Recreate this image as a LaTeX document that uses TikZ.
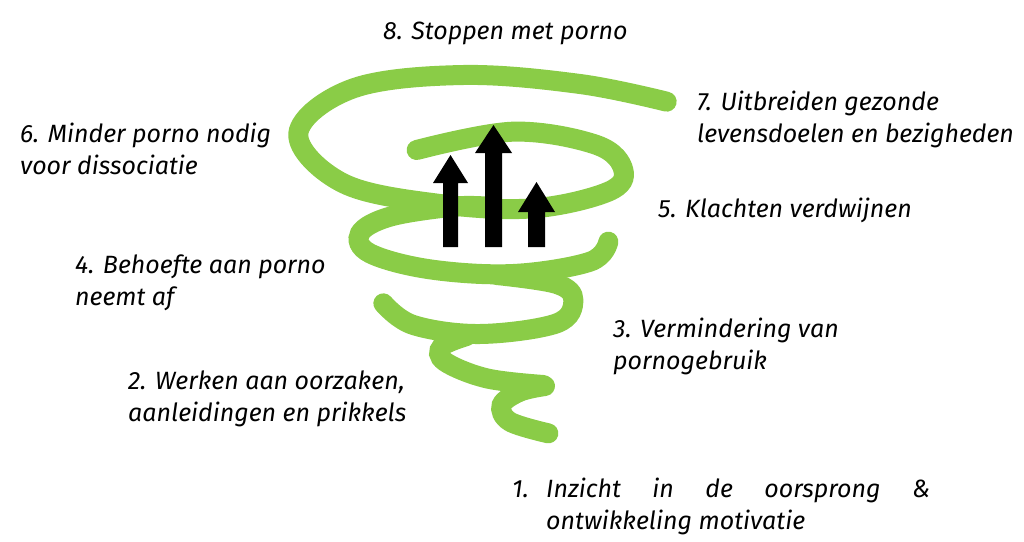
\documentclass[tikz,border=0pt]{standalone}
\usepackage{fontspec}
\setmainfont{Fira Sans}
\definecolor{grn}{HTML}{8ACC47}
\begin{document}
\begin{tikzpicture}[x=1pt,y=-1pt,
  lbl/.style={anchor=north west,align=left,inner sep=0pt,font=\itshape\fontsize{25}{31.5}\selectfont},
  coil/.style={draw=grn,line width=20pt,line cap=round},
  upar/.style={fill=black}]
\useasboundingbox (0,0) rectangle (1024,541);
\begin{scope}[shift={(280,60)},x=1pt/3,y=-1pt/3]
\draw[coil] plot[smooth,tension=0.6] coordinates {(805,1120) (690,1085) (665,1035) (720,995) (795,978)};
\draw[coil] plot[smooth,tension=0.6] coordinates {(790,975) (620,955) (495,905) (485,860) (560,828)};
\draw[coil] plot[smooth,tension=0.6] coordinates {(310,730) (400,795) (600,822) (830,790) (880,720) (830,672) (650,645)};
\draw[coil] plot[smooth,tension=0.6] coordinates {(985,545) (930,605) (700,642) (450,628) (270,580) (240,520) (330,470) (520,440) (620,440)};
\draw[coil] plot[smooth,tension=0.6] coordinates {(1160,125) (900,72) (550,45) (220,85) (55,220) (190,370) (480,432) (760,445) (985,395) (1030,330) (950,255) (700,215) (410,270)};
\end{scope}
\fill[upar] (443,247) -- (443,183) -- (433,183) -- (450.5,155) -- (468,183) -- (458,183) -- (458,247) -- cycle;
\fill[upar] (485,247) -- (485,153) -- (475,153) -- (493.5,125) -- (512,153) -- (502,153) -- (502,247) -- cycle;
\fill[upar] (528,247) -- (528,212) -- (518,212) -- (536.5,182) -- (555,212) -- (545,212) -- (545,247) -- cycle;
\node[lbl] (l8) at (383,22) {8. Stoppen met porno};
\node[lbl] (l7) at (697,91) {7. Uitbreiden gezonde\\levensdoelen en bezigheden};
\node[lbl] (l6) at (20,123) {6. Minder porno nodig\\voor dissociatie};
\node[lbl] (l5) at (658,198) {5. Klachten verdwijnen};
\node[lbl] (l4) at (75,255) {4. Behoefte aan porno\\neemt af};
\node[lbl] (l3) at (613,318) {3. Vermindering van\\pornogebruik};
\node[lbl] (l2) at (128,371) {2. Werken aan oorzaken,\\aanleidingen en prikkels};
\node[lbl] (l1) at (512,478) {\makebox[34pt][l]{1.}\makebox[384pt][l]{Inzicht\hfill in\hfill de\hfill oorsprong\hfill \&}\\\hspace*{34pt}ontwikkeling motivatie};
\end{tikzpicture}
\end{document}
